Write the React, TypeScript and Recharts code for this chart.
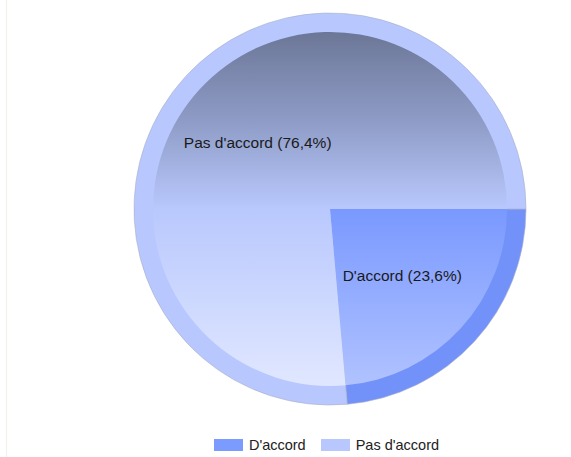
import React from 'react';
import { PieChart, Pie, Cell, Legend } from 'recharts';

const categories = ["D'accord", "Pas d'accord"];
const values = [23.6, 76.4];
const ringColors = ['#7292fa', '#b8c8ff'];
const legendColors = ['#7b9bff', '#b8c8ff'];
const gradientIds = ['gradAccord', 'gradPas'];

const data = categories.map((name, i) => ({ name, value: values[i] }));

const RADIAN = Math.PI / 180;

const renderLabel = (props: any) => {
  const { cx, cy, midAngle, name, value } = props;
  const r = 98;
  const x = cx + r * Math.cos(-midAngle * RADIAN);
  const y = cy + r * Math.sin(-midAngle * RADIAN);
  return (
    <text
      x={x}
      y={y}
      fill="#1a1a1a"
      textAnchor="middle"
      dominantBaseline="central"
      fontSize={15.5}
      fontFamily="'Liberation Sans', Arial, sans-serif"
    >
      {`${name} (${Number(value).toFixed(1).replace('.', ',')}%)`}
    </text>
  );
};

const LegendContent = () => (
  <div
    style={{
      display: 'flex',
      justifyContent: 'center',
      alignItems: 'center',
      fontFamily: "'Liberation Sans', Arial, sans-serif",
      fontSize: 14.5,
      color: '#222',
    }}
  >
    {categories.map((c, i) => (
      <div key={c} style={{ display: 'flex', alignItems: 'center', marginRight: i === 0 ? 15 : 0 }}>
        <div style={{ width: 29, height: 12, background: legendColors[i], marginRight: 6 }} />
        <span>{c}</span>
      </div>
    ))}
  </div>
);

export default function App() {
  return (
    <div style={{ position: 'absolute', left: 0, top: 0, width: 571, height: 457, background: '#fff' }}>
      <div style={{ position: 'absolute', left: 6, top: 0, width: 1, height: 457, background: '#eef3ea' }} />
      <PieChart width={571} height={457} margin={{ top: 0, right: 0, bottom: 0, left: 0 }}>
        <defs>
          <linearGradient id="gradPas" x1="0" y1="0" x2="0" y2="1">
            <stop offset="0%" stopColor="#6c7797" />
            <stop offset="25%" stopColor="#8e9bc6" />
            <stop offset="50%" stopColor="#b9c8fd" />
            <stop offset="100%" stopColor="#e0e7ff" />
          </linearGradient>
          <linearGradient id="gradAccord" x1="0" y1="0" x2="0" y2="1">
            <stop offset="0%" stopColor="#7a99ff" />
            <stop offset="100%" stopColor="#b0c2ff" />
          </linearGradient>
        </defs>
        <Pie
          data={data}
          dataKey="value"
          nameKey="name"
          cx={330}
          cy={209}
          outerRadius={196}
          startAngle={0}
          endAngle={-360}
          stroke="#a7afc6"
          strokeWidth={0.6}
          isAnimationActive={false}
          legendType="none"
        >
          {data.map((d, i) => (
            <Cell key={d.name} fill={ringColors[i]} />
          ))}
        </Pie>
        <Pie
          data={data}
          dataKey="value"
          nameKey="name"
          cx={330}
          cy={209}
          outerRadius={177}
          startAngle={0}
          endAngle={-360}
          stroke="none"
          label={renderLabel}
          labelLine={false}
          isAnimationActive={false}
          legendType="none"
        >
          {data.map((d, i) => (
            <Cell key={d.name} fill={`url(#${gradientIds[i]})`} />
          ))}
        </Pie>
        <Legend
          content={<LegendContent />}
          verticalAlign="bottom"
          wrapperStyle={{ position: 'absolute', left: 41, top: 437, width: 571 }}
        />
      </PieChart>
    </div>
  );
}
